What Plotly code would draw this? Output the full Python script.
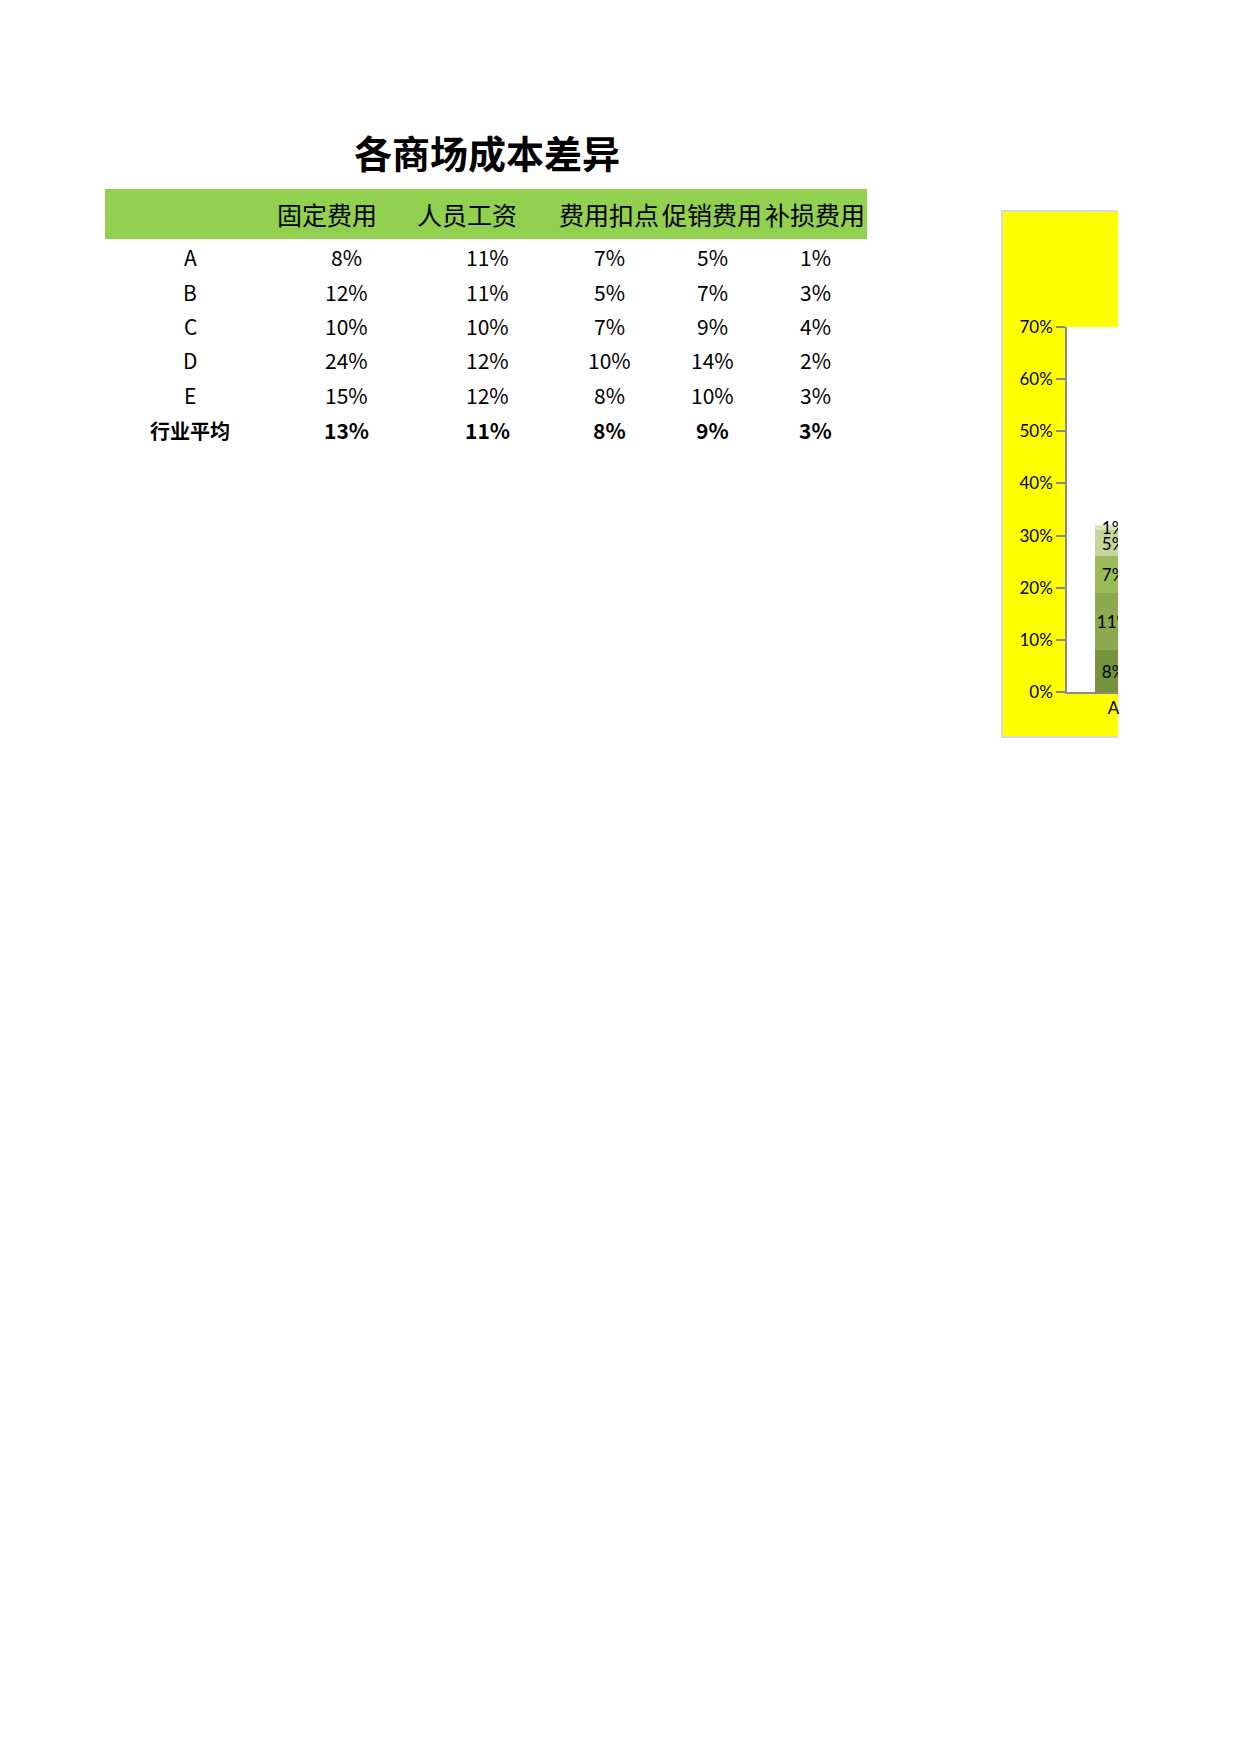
import plotly.graph_objects as go

# table / chart data
stores = ["A", "B", "C", "D", "E"]
avg_label = "行业平均"
cost_items = ["固定费用", "人员工资", "费用扣点", "促销费用", "补损费用"]

fixed_cost = [0.08, 0.12, 0.10, 0.24, 0.15]
staff_wage = [0.11, 0.11, 0.10, 0.12, 0.12]
deduction = [0.07, 0.05, 0.07, 0.10, 0.08]
promotion = [0.05, 0.07, 0.09, 0.14, 0.10]
loss_comp = [0.01, 0.03, 0.04, 0.02, 0.03]
industry_avg = [0.13, 0.11, 0.08, 0.09, 0.03]

title_text = "各商场成本差异"

# page geometry (browser body has an 8px margin)
W, H = 1224, 1738


def px_x(x):
    return (x - 8) / W


def px_y(y):
    return 1 - (y - 8) / H


series = [fixed_cost, staff_wage, deduction, promotion, loss_comp]
colors = ["#76923C", "#8CA94F", "#9BBB59", "#C3D69B", "#D7E4BD"]
categories = stores + [avg_label]

fig = go.Figure()
for i, name in enumerate(cost_items):
    vals = series[i] + [industry_avg[i]]
    fig.add_trace(go.Bar(
        x=categories, y=vals, name=name,
        marker=dict(color=colors[i], line=dict(width=0)),
        texttemplate="%{y:.0%}", textposition="inside",
        insidetextanchor="middle", textangle=0, constraintext="none",
        textfont=dict(family="Lato", size=17, color="#000000"),
        cliponaxis=True,
    ))

# ---- table drawn as text ----
cjk = "Noto Sans CJK SC"
label_x = 190
value_x = [346, 487, 609, 712, 815]
header_x = [327, 467, 609, 712, 815]
row_y = [257, 292, 326, 360, 395]
avg_y = 430

ann = []
ann.append(dict(text="<b>" + title_text + "</b>", x=px_x(487), y=px_y(151),
                font=dict(family=cjk, size=38, color="#000000")))
for j, name in enumerate(cost_items):
    ann.append(dict(text=name, x=px_x(header_x[j]), y=px_y(214),
                    font=dict(family=cjk, size=25, color="#000000")))
for r, store in enumerate(stores):
    ann.append(dict(text=store, x=px_x(label_x), y=px_y(row_y[r]),
                    font=dict(family=cjk, size=21, color="#000000")))
    for j in range(len(cost_items)):
        ann.append(dict(text="%d%%" % round(series[j][r] * 100),
                        x=px_x(value_x[j]), y=px_y(row_y[r]),
                        font=dict(family=cjk, size=21, color="#000000")))
ann.append(dict(text="<b>" + avg_label + "</b>", x=px_x(label_x), y=px_y(avg_y),
                font=dict(family=cjk, size=20, color="#000000")))
for j in range(len(cost_items)):
    ann.append(dict(text="<b>%d%%</b>" % round(industry_avg[j] * 100),
                    x=px_x(value_x[j]), y=px_y(avg_y),
                    font=dict(family=cjk, size=21, color="#000000")))
for a in ann:
    a.update(xref="paper", yref="paper", xanchor="center", yanchor="middle",
             showarrow=False)

shapes = [
    # header band
    dict(type="rect", xref="paper", yref="paper", layer="below",
         x0=px_x(105), x1=px_x(867), y0=px_y(239), y1=px_y(189),
         fillcolor="#92D050", line=dict(width=0)),
    # chart area (cut off by the page edge)
    dict(type="rect", xref="paper", yref="paper", layer="below",
         x0=px_x(1002), x1=px_x(1118), y0=px_y(737), y1=px_y(211),
         fillcolor="#FFFF00", line=dict(width=0)),
    dict(type="path", xref="paper", yref="paper", layer="below",
         path="M %f,%f L %f,%f L %f,%f L %f,%f" % (
             px_x(1118), px_y(211), px_x(1002), px_y(211),
             px_x(1002), px_y(737), px_x(1118), px_y(737)),
         line=dict(color="#D9D9D9", width=2)),
    # plot area
    dict(type="rect", xref="paper", yref="paper", layer="below",
         x0=px_x(1067), x1=px_x(1118), y0=px_y(692), y1=px_y(327),
         fillcolor="#FFFFFF", line=dict(width=0)),
]

fig.update_layout(
    template="none",
    width=W, height=H,
    margin=dict(l=0, r=0, t=0, b=0, pad=0),
    paper_bgcolor="#FFFFFF", plot_bgcolor="#FFFFFF",
    barmode="stack", bargap=0.6,
    showlegend=False,
    annotations=ann, shapes=shapes,
    xaxis=dict(domain=[px_x(1067), px_x(1118)], type="category",
               range=[-0.5, 0.048], showgrid=False, zeroline=False,
               showline=True, linecolor="#898989", linewidth=1.5, ticks="",
               tickfont=dict(family="Lato", size=17, color="#000000")),
    yaxis=dict(domain=[px_y(692), px_y(327)], range=[0, 0.7], dtick=0.1,
               tickformat=".0%", showgrid=False, zeroline=False,
               showline=True, linecolor="#898989", linewidth=1.5,
               ticks="outside", ticklen=9, tickcolor="#898989", tickwidth=1.5,
               tickfont=dict(family="Lato", size=17, color="#000000")),
)

fig.write_html("out.html")
